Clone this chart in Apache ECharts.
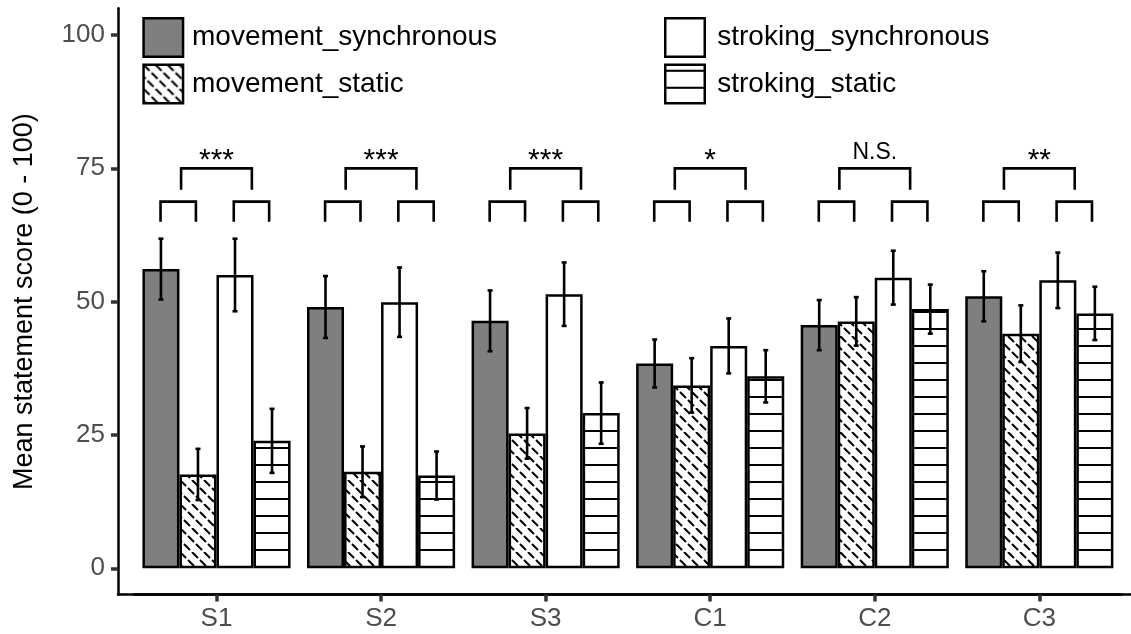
<!DOCTYPE html>
<html><head><meta charset="utf-8">
<script src="https://cdn.jsdelivr.net/npm/echarts@6/dist/echarts.min.js"></script>
<style>html,body{margin:0;padding:0;background:#fff}#c{width:1131px;height:634px}</style>
</head><body><div id="c"></div>
<script>
// ---------------- data ----------------
const categories = ['S1', 'S2', 'S3', 'C1', 'C2', 'C3'];
const seriesNames = ['movement_synchronous', 'movement_static', 'stroking_synchronous', 'stroking_static'];
const movementSynchronous   = [56.1, 49.0, 46.4, 38.4, 45.6, 51.0];
const movementSynchronousSE = [5.7, 5.8, 5.7, 4.5, 4.7, 4.7];
const movementStatic        = [17.6, 18.1, 25.3, 34.3, 46.3, 44.0];
const movementStaticSE      = [4.8, 4.75, 4.75, 5.1, 4.55, 5.3];
const strokingSynchronous   = [55.0, 49.9, 51.4, 41.7, 54.5, 54.0];
const strokingSynchronousSE = [6.8, 6.5, 5.95, 5.15, 5.05, 5.2];
const strokingStatic        = [23.9, 17.4, 29.1, 36.0, 48.6, 47.8];
const strokingStaticSE      = [6.0, 4.5, 5.75, 4.9, 4.6, 5.0];
const significance = ['***', '***', '***', '*', 'N.S.', '**'];
const yTicks = [0, 25, 50, 75, 100];
// bracket levels (data units): [leg end, top]
const outerBracketLevels = [71, 75];
const innerBracketLevels = [65, 68.75];
const labelLevel = 78;

// ---------------- styling ----------------
const FONT = '"Liberation Sans", Arial, sans-serif';
const CAT_GAP = 0.10;
const BAR_FRAC = (1 - CAT_GAP) / seriesNames.length;
const outerSpan = [-0.215, 0.215];
const innerSpans = [[-0.34, -0.125], [0.105, 0.32]];

function hatchCanvas() {
  const c = document.createElement('canvas');
  c.width = 24; c.height = 24;
  const g = c.getContext('2d');
  g.fillStyle = '#fff'; g.fillRect(0, 0, 24, 24);
  g.strokeStyle = '#000'; g.lineWidth = 2;
  g.setLineDash([8.5, 2.81]);
  for (const s of [-24, -12, 0, 12, 24]) {
    g.beginPath(); g.moveTo(s, 0); g.lineTo(s + 24, 24); g.stroke();
  }
  return c;
}
function hlineCanvas() {
  const c = document.createElement('canvas');
  c.width = 8; c.height = 17;
  const g = c.getContext('2d');
  g.fillStyle = '#fff'; g.fillRect(0, 0, 8, 17);
  g.fillStyle = '#000'; g.fillRect(0, 5, 8, 2);
  return c;
}
const fills = [
  '#7f7f7f',
  { image: hatchCanvas(), repeat: 'repeat' },
  '#ffffff',
  { image: hlineCanvas(), repeat: 'repeat' }
];
const means = [movementSynchronous, movementStatic, strokingSynchronous, strokingStatic];
const errors = [movementSynchronousSE, movementStaticSE, strokingSynchronousSE, strokingStaticSE];

const errData = [];
means.forEach((arr, k) => arr.forEach((m, i) => errData.push([i, m, errors[k][i], k])));

const barSeries = seriesNames.map((name, k) => ({
  name, type: 'bar', xAxisIndex: 0, yAxisIndex: 0,
  data: means[k],
  barGap: '0%', barCategoryGap: (CAT_GAP * 100) + '%',
  itemStyle: { color: fills[k], borderColor: '#000', borderWidth: 2.5 },
  emphasis: { disabled: true }
}));

const errSeries = {
  type: 'custom', xAxisIndex: 0, yAxisIndex: 0, z: 5, silent: true,
  encode: { x: 0, y: 1 },
  data: errData,
  renderItem(params, api) {
    const i = api.value(0), m = api.value(1), e = api.value(2), k = api.value(3);
    const band = api.size([1, 0])[0];
    const cx = api.coord([i, m])[0] + (k - (seriesNames.length - 1) / 2) * band * BAR_FRAC;
    const yt = api.coord([i, m + e])[1], yb = api.coord([i, m - e])[1];
    const st = { stroke: '#000', lineWidth: 2.6 };
    return { type: 'group', children: [
      { type: 'line', shape: { x1: cx, y1: yt, x2: cx, y2: yb }, style: st },
      { type: 'line', shape: { x1: cx - 2.5, y1: yt, x2: cx + 2.5, y2: yt }, style: st },
      { type: 'line', shape: { x1: cx - 2.5, y1: yb, x2: cx + 2.5, y2: yb }, style: st }
    ]};
  }
};

const bracketSeries = {
  type: 'custom', xAxisIndex: 0, yAxisIndex: 0, z: 5, silent: true,
  encode: { x: 0, y: 1 },
  data: categories.map((c, i) => [i, outerBracketLevels[1]]),
  renderItem(params, api) {
    const i = api.value(0);
    const band = api.size([1, 0])[0];
    const cx = api.coord([i, 0])[0];
    const Y = v => api.coord([i, v])[1];
    const st = { stroke: '#000', fill: null, lineWidth: 2.6 };
    const br = (a, b, lv) => ({ type: 'polyline', shape: { points: [
      [cx + a * band, Y(lv[0])], [cx + a * band, Y(lv[1])], [cx + b * band, Y(lv[1])], [cx + b * band, Y(lv[0])]
    ] }, style: st });
    const lab = significance[params.dataIndex];
    const isStar = lab.indexOf('*') >= 0;
    return { type: 'group', children: [
      br(outerSpan[0], outerSpan[1], outerBracketLevels),
      br(innerSpans[0][0], innerSpans[0][1], innerBracketLevels),
      br(innerSpans[1][0], innerSpans[1][1], innerBracketLevels),
      { type: 'text', style: {
        text: lab, x: cx, y: Y(labelLevel) + (isStar ? 8 : 0),
        align: 'center', verticalAlign: 'middle',
        font: (isStar ? '30px ' : '23px ') + FONT, fill: '#000'
      } }
    ]};
  }
};

function legendAt(left, names, textPad) {
  return {
    left, top: 17, data: names, padding: 0,
    orient: 'vertical', icon: 'rect', itemWidth: 39.5, itemHeight: 38.5, itemGap: 5.5,
    selectedMode: false,
    itemStyle: { borderColor: '#000', borderWidth: 2.5 },
    textStyle: { fontFamily: FONT, fontSize: 28, color: '#000', padding: [0, 0, 0, textPad] }
  };
}

const tickLabelStyle = { fontSize: 26, color: '#4d4d4d', fontFamily: FONT };
const tickLine = { color: '#333', width: 3.5 };

const option = {
  animation: false,
  backgroundColor: '#fff',
  textStyle: { fontFamily: FONT },
  legend: [
    legendAt(142.3, seriesNames.slice(0, 2), 4),
    legendAt(664, seriesNames.slice(2, 4), 7.5)
  ],
  grid: [
    { left: 134.2, right: 9.4, top: 35, bottom: 65.7 },   // bars
    { left: 118, width: 1040, top: 8.3, bottom: 39.5 },   // axis lines
    { left: 134.2, right: 9.4, top: 35, bottom: 39.5 }    // category ticks + labels
  ],
  xAxis: [
    { type: 'category', gridIndex: 0, data: categories, show: false },
    { type: 'value', gridIndex: 1, min: 0, max: 1,
      axisLine: { show: true, onZero: false, lineStyle: { color: '#000', width: 2.5 } },
      axisTick: { show: false }, axisLabel: { show: false }, splitLine: { show: false } },
    { type: 'category', gridIndex: 2, data: categories, z: 10,
      axisLine: { show: true, onZero: false, lineStyle: { color: '#000', width: 2.5 } },
      axisTick: { show: true, inside: false, alignWithLabel: true, length: 7, lineStyle: tickLine },
      axisLabel: Object.assign({ margin: 11 }, tickLabelStyle),
      splitLine: { show: false } }
  ],
  yAxis: [
    { type: 'value', gridIndex: 0, min: yTicks[0], max: yTicks[yTicks.length - 1],
      interval: yTicks[1] - yTicks[0], offset: 16.2,
      name: 'Mean statement score (0 - 100)', nameLocation: 'middle', nameGap: 80,
      nameTextStyle: { fontSize: 27, color: '#000', fontFamily: FONT },
      axisLine: { show: false },
      axisTick: { show: true, length: 7, lineStyle: tickLine },
      axisLabel: Object.assign({ margin: 13 }, tickLabelStyle),
      splitLine: { show: false } },
    { type: 'value', gridIndex: 1, min: 0, max: 1,
      axisLine: { show: true, onZero: false, lineStyle: { color: '#000', width: 2.5 } },
      axisTick: { show: false }, axisLabel: { show: false }, splitLine: { show: false } },
    { type: 'value', gridIndex: 2, min: 0, max: 1, show: false }
  ],
  series: barSeries.concat([errSeries, bracketSeries])
};

const chart = echarts.init(document.getElementById('c'), null, { renderer: 'canvas' });
chart.setOption(option);
</script>
</body></html>
